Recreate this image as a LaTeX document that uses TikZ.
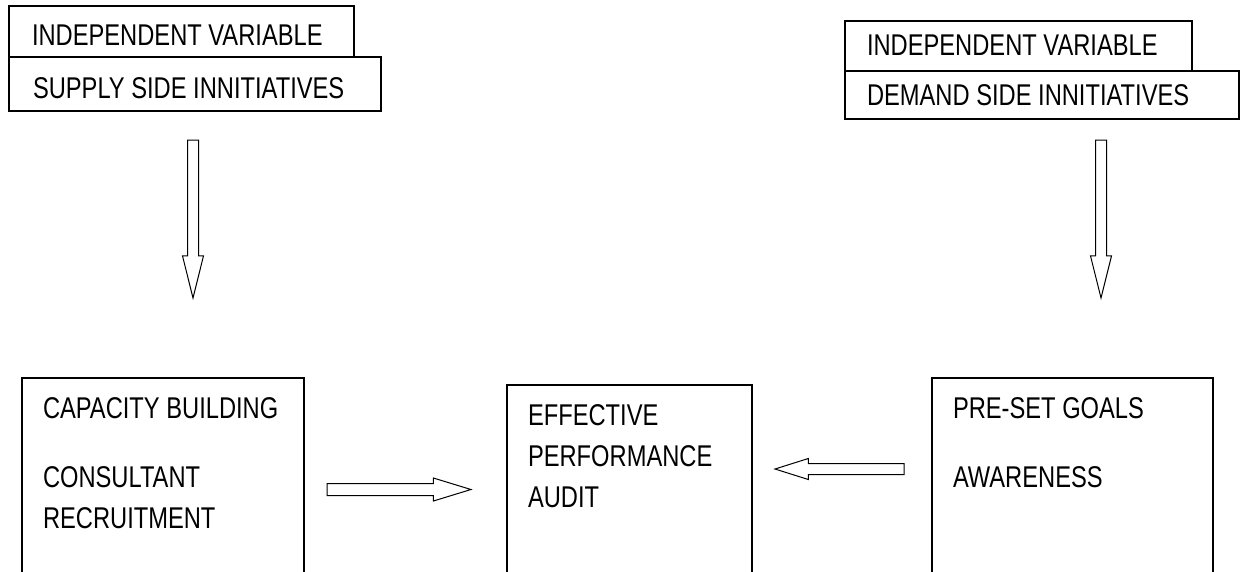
\documentclass[tikz,border=0pt]{standalone}
\usepackage{fontspec}
\setmainfont{Liberation Sans}[FakeStretch=0.79]
\usepackage{tikz}
\usetikzlibrary{shapes.arrows}
\usetikzlibrary{positioning}

\begin{document}
\begin{tikzpicture}[x=1pt,y=-1pt,line width=1.2pt,font=\fontsize{30}{41}\selectfont]
	\tikzstyle{box}=[draw, rectangle, anchor=north west, inner sep=0pt, outer sep=0pt]
	\tikzstyle{txt}=[inner sep=0pt, outer sep=0pt, align=left]
	\tikzstyle{barrow}=[draw, single arrow, inner sep=5pt, outer sep=0pt, single arrow head extend=5pt, line width=1pt, anchor=tail]

	\useasboundingbox (0,0) rectangle (1241,571);

	% top left
	\node[box, minimum width=345pt, minimum height=51pt]	(indl) at (9,6)	{};
	\node[box, minimum width=372pt, minimum height=54pt]	(supl) [below=0pt of indl.south west, anchor=north west]	{};
	\node[txt]	(indltxt) [below right=19pt and 23pt of indl.north west]	{INDEPENDENT VARIABLE};
	\node[txt]	(supltxt) [below right=21pt and 24pt of supl.north west]	{SUPPLY SIDE INNITIATIVES};

	% top right
	\node[box, minimum width=347pt, minimum height=50pt]	(indr) at (845,21)	{};
	\node[box, minimum width=394pt, minimum height=48pt]	(demr) [below=0pt of indr.south west, anchor=north west]	{};
	\node[txt]	(indrtxt) [below right=14pt and 22pt of indr.north west]	{INDEPENDENT VARIABLE};
	\node[txt]	(demrtxt) [below right=14pt and 22pt of demr.north west]	{DEMAND SIDE INNITIATIVES};

	% bottom row
	\node[box, minimum width=282pt, minimum height=250pt]	(capbox) at (22,378)	{};
	\node[box, minimum width=245pt, minimum height=250pt]	(audbox) at (507,385)	{};
	\node[box, minimum width=281pt, minimum height=250pt]	(goalbox) at (932,378)	{};
	\node[txt]	(captxt) [below right=20pt and 21pt of capbox.north west]	{CAPACITY BUILDING\\[28pt]CONSULTANT\\RECRUITMENT};
	\node[txt]	(audtxt) [below right=20pt and 21pt of audbox.north west]	{EFFECTIVE\\PERFORMANCE\\AUDIT};
	\node[txt]	(goaltxt) [below right=20pt and 21pt of goalbox.north west]	{PRE-SET GOALS\\[28pt]AWARENESS};

	% block arrows
	\node[barrow, rotate=-90, minimum height=158pt, single arrow tip angle=28]	(arrsup) at (193,140)	{};
	\node[barrow, rotate=-90, minimum height=158pt, single arrow tip angle=28]	(arrdem) at (1101,140)	{};
	\node[barrow, minimum height=144pt, inner sep=5.5pt, single arrow head extend=5.5pt, single arrow tip angle=34]	(arrcap) at (327,489.5)	{};
	\node[barrow, rotate=180, minimum height=129pt, single arrow tip angle=35]	(arrgoal) at (904,469)	{};
\end{tikzpicture}
\end{document}
